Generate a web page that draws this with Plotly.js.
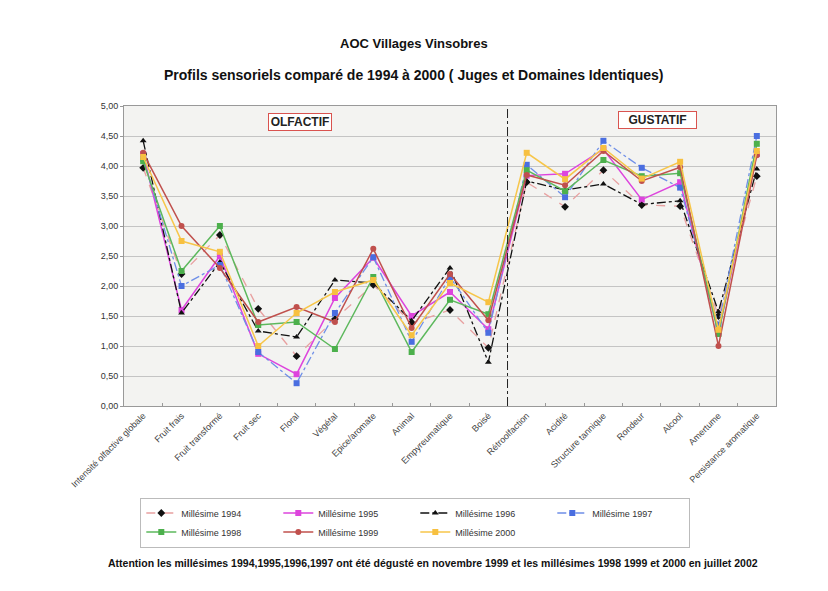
<!DOCTYPE html>
<html>
<head>
<meta charset="utf-8">
<script src="https://cdn.plot.ly/plotly-3.0.1.min.js"></script>
<style>html,body{margin:0;padding:0;background:#fff;}#chart{width:828px;height:591px;}</style>
</head>
<body>
<div id="chart"></div>
<script>
var categories = ["Intensité olfactive globale","Fruit frais","Fruit transformé","Fruit sec","Floral","Végétal","Epice/aromate","Animal","Empyreumatique","Boisé","Rétroolfaction","Acidité","Structure tannique","Rondeur","Alcool","Amertume","Persistance aromatique"];
var seriesNames = ["Millésime 1994","Millésime 1995","Millésime 1996","Millésime 1997","Millésime 1998","Millésime 1999","Millésime 2000"];
var m1994 = [3.97, 2.20, 2.85, 1.62, 0.83, 1.45, 2.02, 1.38, 1.60, 0.97, 3.73, 3.32, 3.93, 3.35, 3.33, 1.50, 3.83];
var m1995 = [4.20, 1.60, 2.50, 0.87, 0.53, 1.80, 2.47, 1.50, 1.90, 1.28, 3.84, 3.87, 4.28, 3.44, 3.73, 1.22, 4.20];
var m1996 = [4.42, 1.55, 2.40, 1.25, 1.15, 2.10, 2.05, 1.42, 2.30, 0.73, 3.75, 3.60, 3.70, 3.36, 3.42, 1.57, 3.95];
var m1997 = [4.12, 2.00, 2.35, 0.90, 0.38, 1.55, 2.48, 1.07, 2.15, 1.22, 4.02, 3.48, 4.42, 3.97, 3.64, 1.35, 4.50];
var m1998 = [4.08, 2.25, 3.00, 1.35, 1.40, 0.95, 2.15, 0.90, 1.77, 1.53, 3.93, 3.58, 4.10, 3.83, 3.88, 1.20, 4.37];
var m1999 = [4.22, 3.00, 2.30, 1.40, 1.65, 1.40, 2.62, 1.30, 2.20, 1.43, 3.85, 3.68, 4.25, 3.75, 3.98, 1.00, 4.18];
var m2000 = [4.15, 2.75, 2.57, 1.00, 1.55, 1.90, 2.10, 1.18, 2.05, 1.73, 4.22, 3.78, 4.30, 3.79, 4.07, 1.27, 4.25];

var values = [m1994, m1995, m1996, m1997, m1998, m1999, m2000];
var styles = [
  {line:{color:'#e8a0a0', dash:'dash', width:1.3}, marker:{symbol:'diamond', color:'#111', size:6}},
  {line:{color:'#dd44dd', dash:'solid', width:1.5}, marker:{symbol:'square', color:'#dd44dd', size:6}},
  {line:{color:'#111111', dash:'dashdot', width:1.3}, marker:{symbol:'triangle-up', color:'#111', size:6}},
  {line:{color:'#6f8fe8', dash:'dashdot', width:1.3}, marker:{symbol:'square', color:'#4a6ee0', size:6}},
  {line:{color:'#5cb85c', dash:'solid', width:1.5}, marker:{symbol:'square', color:'#4cb04c', size:6}},
  {line:{color:'#c0504d', dash:'solid', width:1.5}, marker:{symbol:'circle', color:'#c0504d', size:6}},
  {line:{color:'#f7c64a', dash:'solid', width:1.5}, marker:{symbol:'square', color:'#f7c040', size:6}}
];

var traces = values.map(function(v, i){
  return {x: categories, y: v, name: seriesNames[i], type:'scatter', mode:'lines+markers',
          line: styles[i].line, marker: styles[i].marker};
});

var font = 'Liberation Sans, Arial, sans-serif';
var layout = {
  width: 828, height: 591,
  margin: {l:124, r:52, t:106, b:185},
  paper_bgcolor: '#ffffff',
  plot_bgcolor: '#f3f3f1',
  separators: ', ',
  showlegend: true,
  font: {family: font, size: 9, color: '#333'},
  xaxis: {
    type: 'category', tickangle: -45, tickfont:{size:9, color:'#444'},
    showgrid:false, showline:true, linecolor:'#999', mirror:true,
    ticks:'inside', tickson:'boundaries', ticklen:3, tickcolor:'#999',
    range:[-0.5, 16.5], fixedrange:true
  },
  yaxis: {
    range:[0,5], dtick:0.5, tickformat:'.2f', tickfont:{size:9, color:'#333'},
    showgrid:true, gridcolor:'#c4c4c4', gridwidth:1,
    showline:true, linecolor:'#999', mirror:true, zeroline:false,
    ticks:'outside', ticklen:3, tickcolor:'#999'
  },
  legend: {
    orientation:'h', x:0.025, xanchor:'left', y:-0.305, yanchor:'top',
    bordercolor:'#bbbbbb', borderwidth:1, bgcolor:'#ffffff',
    font:{size:9, color:'#333'}, entrywidth:92, entrywidthmode:'pixels',
    itemwidth:30, tracegroupgap:0
  },
  shapes: [
    {type:'line', xref:'x', yref:'paper', x0:9.5, x1:9.5, y0:0, y1:1,
     line:{color:'#222', width:1, dash:'dashdot'}}
  ],
  annotations: [
    {text:'<b>AOC Villages Vinsobres</b>', xref:'paper', yref:'paper', x:0.445, y:1.21, xanchor:'center', yanchor:'middle', showarrow:false,
     font:{size:13, color:'#111', family:font}},
    {text:'<b>Profils sensoriels comparé de 1994 à 2000 ( Juges et Domaines Identiques)</b>', xref:'paper', yref:'paper', x:0.445, y:1.103, xanchor:'center', yanchor:'middle', showarrow:false,
     font:{size:14, color:'#111', family:font}},
    {text:'<b>Attention les millésimes 1994,1995,1996,1997 ont été dégusté en novembre 1999 et les millésimes 1998 1999 et 2000 en juillet 2002</b>', xref:'paper', yref:'paper', x:0.474, y:-0.523, xanchor:'center', yanchor:'middle', showarrow:false,
     font:{size:10.5, color:'#111', family:font}},
    {text:'<b>OLFACTIF</b>', xref:'paper', yref:'paper', x:0.27, y:0.948, xanchor:'center', yanchor:'middle', showarrow:false,
     width:60, font:{size:12, color:'#222', family:font}, bordercolor:'#d9534f', borderwidth:1, borderpad:1, bgcolor:'#ffffff'},
    {text:'<b>GUSTATIF</b>', xref:'paper', yref:'paper', x:0.818, y:0.955, xanchor:'center', yanchor:'middle', showarrow:false,
     width:75, font:{size:12, color:'#222', family:font}, bordercolor:'#d9534f', borderwidth:1, borderpad:1, bgcolor:'#ffffff'}
  ]
};

Plotly.newPlot('chart', traces, layout, {displayModeBar:false, staticPlot:true});
</script>
</body>
</html>
